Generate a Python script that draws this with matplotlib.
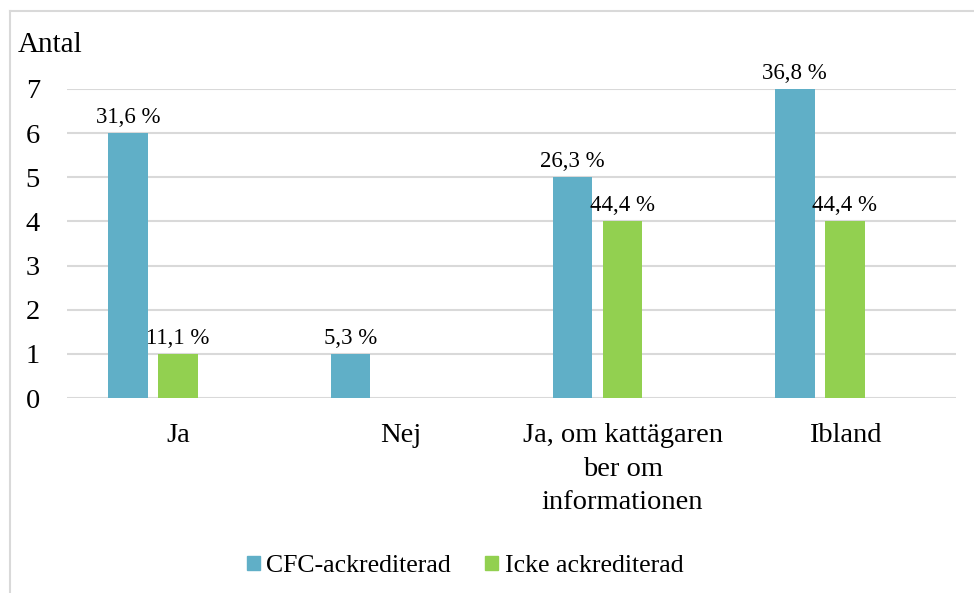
import numpy as np
import matplotlib.pyplot as plt
from matplotlib.lines import Line2D

categories = ['Ja', 'Nej', 'Ja, om kattägaren\nber om\ninformationen', 'Ibland']
cfc_values = [6, 1, 5, 7]
icke_values = [1, 0, 4, 4]
cfc_labels = ['31,6 %', '5,3 %', '26,3 %', '36,8 %']
icke_labels = ['11,1 %', '', '44,4 %', '44,4 %']
series_names = ['CFC-ackrediterad', 'Icke ackrediterad']

BLUE = '#60AFC7'
GREEN = '#92D050'
GRID = '#D9D9D9'

plt.rcParams['font.family'] = ['Liberation Serif', 'DejaVu Serif']

fig = plt.figure(figsize=(9.74, 5.93), dpi=100)
ax = fig.add_axes([67 / 974, 1 - 398 / 593, (956 - 67) / 974, (398 - 89) / 593])

x = np.arange(len(categories))
w = 0.178
step = 0.225  # Excel cluster leaves room for a third (empty) series
b1 = ax.bar(x - step, cfc_values, w, color=BLUE, zorder=3)
b2 = ax.bar(x, icke_values, w, color=GREEN, zorder=3)

for rect, lab in zip(b1, cfc_labels):
    ax.text(rect.get_x() + rect.get_width() / 2, rect.get_height() + 0.12, lab,
            ha='center', va='bottom', fontsize=16.5)
for rect, lab in zip(b2, icke_labels):
    if lab:
        ax.text(rect.get_x() + rect.get_width() / 2, rect.get_height() + 0.12, lab,
                ha='center', va='bottom', fontsize=16.5)

ax.set_xlim(-0.5, len(categories) - 0.5)
ax.set_ylim(0, 7)
ax.set_yticks(range(8))
ax.set_xticks(x)
ax.set_xticklabels(categories, fontsize=20.5, linespacing=1.45)
ax.tick_params(axis='y', labelsize=20.5, length=0, pad=19.5)
ax.tick_params(axis='x', length=0, pad=18)
ax.grid(axis='y', color=GRID, linewidth=1.5, zorder=0)
for s in ax.spines.values():
    s.set_visible(False)

fig.text(18 / 974, 1 - 45 / 593, 'Antal', fontsize=21, ha='left', va='center')

# chart frame
fig.add_artist(Line2D([10 / 974, 10 / 974], [0, 1 - 11 / 593], color=GRID, lw=1.5))
fig.add_artist(Line2D([10 / 974, 1], [1 - 11 / 593, 1 - 11 / 593], color=GRID, lw=1.5))

handles = [plt.Rectangle((0, 0), 1, 1, color=BLUE), plt.Rectangle((0, 0), 1, 1, color=GREEN)]
fig.legend(handles, series_names, loc='center', bbox_to_anchor=(465 / 974, 1 - 566 / 593),
           ncol=2, frameon=False, fontsize=18.5, handlelength=0.5, handleheight=0.5,
           handletextpad=0.25, columnspacing=1.35)

fig.savefig('out.png', dpi=100)
